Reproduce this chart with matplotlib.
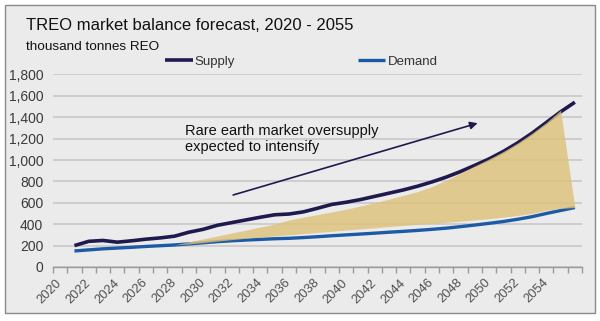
import matplotlib
matplotlib.use("Agg")
import matplotlib.pyplot as plt
from matplotlib.patches import Rectangle
import numpy as np

plt.rcParams["font.family"] = ["Liberation Sans", "DejaVu Sans"]

# --- Data (thousand tonnes REO) ----------------------------------------------

years = list(range(2021, 2057))
supply = [200, 240, 248, 232, 245, 260, 272, 288, 325, 352,
          390, 415, 440, 465, 488, 495, 515, 549, 585, 605,
          630, 660, 690, 720, 755, 795, 840, 892, 950, 1010,
          1080, 1160, 1250, 1350, 1450, 1540]
demand = [150, 160, 170, 177, 184, 192, 199, 206, 216, 226,
          237, 245, 252, 258, 264, 268, 275, 283, 292, 300,
          308, 316, 325, 333, 342, 352, 363, 377, 392, 408,
          425, 446, 470, 500, 528, 556]

# oversupply band
band_years = list(range(2028, 2057))
band_high = [206, 235, 262, 290, 318, 345, 373, 400, 440, 465,
             490, 515, 540, 570, 600, 635, 670, 705, 752, 810,
             878, 945, 1010, 1080, 1160, 1250, 1350, 1465, 556]
band_low = [206, 216, 228, 242, 256, 268, 279, 290, 301, 312,
            323, 334, 345, 356, 366, 378, 388, 398, 407, 417,
            428, 440, 452, 466, 482, 500, 530, 548, 556]

label_years = list(range(2020, 2056, 2))
y_ticks = list(range(0, 2000, 200))

SUPPLY_COL = "#1f1a4e"
DEMAND_COL = "#1d5aa6"
BAND_COL = "#ddc177"
GRID_COL = "#c9c9c9"
TEXT_COL = "#3a3a3a"

# --- Figure -------------------------------------------------------------------

fig = plt.figure(figsize=(6, 3.21), dpi=100)
fig.patch.set_facecolor("white")
fig.patches.append(Rectangle((5 / 600, 8 / 321), 590 / 600, 308 / 321,
                             transform=fig.transFigure, facecolor="#ebebeb",
                             edgecolor="#8a8a8a", linewidth=1.0, zorder=-1))

ax = fig.add_axes([53 / 600, 1 - 267 / 321, 529 / 600, (267 - 74.4) / 321])
ax.set_facecolor("none")

ax.plot(years, supply, color=SUPPLY_COL, linewidth=2.6, solid_capstyle="butt", zorder=3,
        label="Supply")
ax.plot(years, demand, color=DEMAND_COL, linewidth=2.4, solid_capstyle="butt", zorder=3,
        label="Demand")
ax.fill_between(band_years, band_low, band_high, color=BAND_COL, alpha=0.8,
                linewidth=0, zorder=4)

ax.set_xlim(2019.5, 2056.5)
ax.set_ylim(0, 1800)

ax.set_yticks(y_ticks)
ax.set_yticklabels([f"{v:,}" for v in y_ticks])
ax.tick_params(axis="y", length=0, pad=7, labelsize=10, labelcolor=TEXT_COL)
ax.grid(axis="y", color=GRID_COL, linewidth=1.2, zorder=1)
ax.set_axisbelow(True)

ax.set_xticks(label_years)
ax.set_xticklabels([str(y) for y in label_years], rotation=45, ha="right",
                   va="center", rotation_mode="anchor")
ax.tick_params(axis="x", which="major", length=0, pad=10, labelsize=9.3,
               labelcolor="#505050")
ax.set_xticks(np.arange(2019.5, 2057, 1), minor=True)
ax.tick_params(axis="x", which="minor", length=4, width=1, color="#9a9a9a",
               direction="out")

for side in ["top", "right", "left"]:
    ax.spines[side].set_visible(False)
ax.spines["bottom"].set_color("#9a9a9a")
ax.spines["bottom"].set_linewidth(1.0)

ax.annotate("", xy=(2049.2, 1344), xytext=(2032.1, 673),
            arrowprops=dict(arrowstyle="-|>", color=SUPPLY_COL, lw=1.2,
                            mutation_scale=11, shrinkA=0, shrinkB=0), zorder=5)
ax.text(2028.7, 1197, "Rare earth market oversupply\nexpected to intensify",
        fontsize=10.5, color="#111111", ha="left", va="center", linespacing=1.15,
        zorder=5)

fig.text(26 / 600, 1 - 25 / 321, "TREO market balance forecast, 2020 - 2055",
         fontsize=12, color="#111111", ha="left", va="center")
fig.text(26 / 600, 1 - 47 / 321, "thousand tonnes REO",
         fontsize=9.7, color="#111111", ha="left", va="center")

leg = ax.legend(loc="center left", bbox_to_anchor=(165 / 600, 1 - 62 / 321),
                bbox_transform=fig.transFigure, ncol=2, frameon=False,
                fontsize=9.5, handlelength=2.1, handletextpad=0.15,
                columnspacing=9.3, borderpad=0, borderaxespad=0)
for t in leg.get_texts():
    t.set_color("#333333")

plt.savefig("out.png", dpi=100)
plt.close()
